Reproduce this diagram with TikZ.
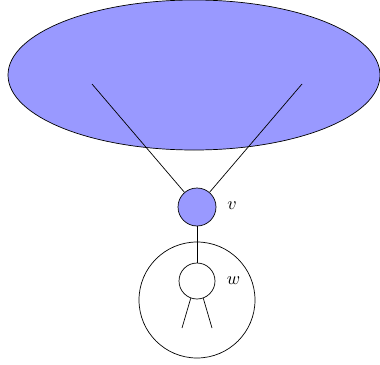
\documentclass[tikz,border=0pt]{standalone}
\usetikzlibrary{shapes.geometric}
\begin{document}
\begin{tikzpicture}[x=1pt,y=-1pt,line width=0.7pt,
  blob/.style={draw=black,fill=blue!40},
  vert/.style={circle,draw=black,inner sep=0pt},
  lab/.style={inner sep=0pt}]
\useasboundingbox (0,0) rectangle (380,364);
\node[blob,ellipse,minimum width=372pt,minimum height=150pt,inner sep=0pt] (E) at (194,75) {};
\coordinate (a1) at (92,84);
\coordinate (a2) at (302,84);
\node[vert,fill=blue!40,minimum size=38pt] (v) at (197,207) {};
\node[vert,minimum size=116pt] (B) at (197,300) {};
\node[vert,minimum size=36pt] (w) at (197,281) {};
\coordinate (b1) at (182,328);
\coordinate (b2) at (212,328);
\draw (a1) -- (v);
\draw (a2) -- (v);
\draw (v) -- (w);
\draw (w.250) -- (b1);
\draw (w.290) -- (b2);
\node[lab] (lv) at (232,206) {\scalebox{1.8}{$v$}};
\node[lab] (lw) at (233.5,281) {\scalebox{1.8}{$w$}};
\end{tikzpicture}
\end{document}
